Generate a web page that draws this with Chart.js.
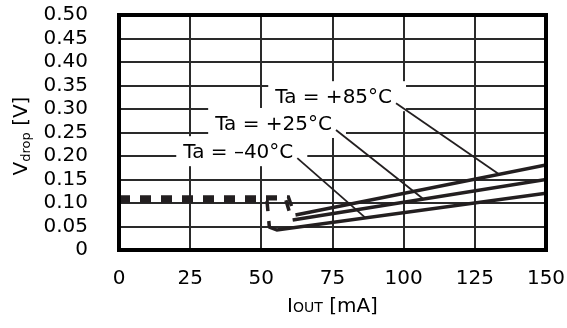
<!DOCTYPE html>
<html>
<head>
<meta charset="utf-8">
<script src="https://cdn.jsdelivr.net/npm/chart.js@4.4.0/dist/chart.umd.min.js"></script>
<style>
  html, body { margin: 0; padding: 0; background: #fff; }
</style>
</head>
<body>
<canvas id="vdropChart" width="567" height="328"></canvas>
<script>
// === DATA ===
const xTicks = [0, 25, 50, 75, 100, 125, 150];
const yTicks = [0, 0.05, 0.10, 0.15, 0.20, 0.25, 0.30, 0.35, 0.40, 0.45, 0.50];
const seriesNames = ["Ta = +85°C", "Ta = +25°C", "Ta = \u201340°C"];

// low current part (dashed)
const dashX85 = [0, 59.5, 61.5];
const dashY85 = [0.113, 0.113, 0.078];
const dashX25 = [0, 58.5, 60.5];
const dashY25 = [0.109, 0.109, 0.068];
const dashX40 = [0, 52, 52.8];
const dashY40 = [0.104, 0.104, 0.05];

// main part (solid)
const lineX85 = [62, 150];
const lineY85 = [0.0745, 0.181];
const lineX25 = [61, 150];
const lineY25 = [0.064, 0.150];
const lineX40 = [52.6, 55.5, 150];
const lineY40 = [0.049, 0.0425, 0.121];

// label anchors (data units) and where the leader hits the curve
const labelX = [75.4, 54.3, 41.9];
const labelY = [0.323, 0.266, 0.206];
const leaderX = [133.5, 106.9, 86.6];

const INK = "#231f20";
const FONT = "'DejaVu Sans', sans-serif";

function pts(xs, ys) {
  return xs.map((x, i) => ({ x: x, y: ys[i] }));
}

function yOnCurve(xs, ys, x) {
  for (let i = 0; i < xs.length - 1; i++) {
    if (x >= xs[i] && x <= xs[i + 1]) {
      const t = (x - xs[i]) / (xs[i + 1] - xs[i]);
      return ys[i] + t * (ys[i + 1] - ys[i]);
    }
  }
  return ys[ys.length - 1];
}

const solidX = [lineX85, lineX25, lineX40];
const solidY = [lineY85, lineY25, lineY40];

function dashed(xs, ys) {
  return {
    data: pts(xs, ys), borderColor: INK, borderWidth: 3.5,
    borderDash: [11, 10], pointRadius: 0, tension: 0, fill: false
  };
}
function solid(xs, ys) {
  return {
    data: pts(xs, ys), borderColor: INK, borderWidth: 3.5,
    pointRadius: 0, tension: 0, fill: false
  };
}

// labels with white boxes + leader lines
const labelPlugin = {
  id: "tempLabels",
  beforeDatasetsDraw(chart) {
    const { ctx, scales: { x, y } } = chart;
    ctx.save();
    ctx.font = "20px " + FONT;
    ctx.fillStyle = "#fff";
    seriesNames.forEach((name, i) => {
      const cx = x.getPixelForValue(labelX[i]);
      const cy = y.getPixelForValue(labelY[i]);
      const w = ctx.measureText(name).width;
      ctx.fillRect(cx - w / 2 - 7, cy - 17, w + 21, 30);
    });
    ctx.restore();
  },
  afterDatasetsDraw(chart) {
    const { ctx, scales: { x, y } } = chart;
    ctx.save();
    ctx.font = "20px " + FONT;
    ctx.fillStyle = "#000";
    ctx.textAlign = "center";
    ctx.textBaseline = "middle";
    ctx.strokeStyle = INK;
    ctx.lineWidth = 1.8;
    seriesNames.forEach((name, i) => {
      const cx = x.getPixelForValue(labelX[i]);
      const cy = y.getPixelForValue(labelY[i]);
      const w = ctx.measureText(name).width;
      ctx.fillText(name, cx, cy);
      const tx = x.getPixelForValue(leaderX[i]);
      const ty = y.getPixelForValue(yOnCurve(solidX[i], solidY[i], leaderX[i]));
      ctx.beginPath();
      ctx.moveTo(cx + w / 2 + 4, cy + 5);
      ctx.lineTo(tx, ty);
      ctx.stroke();
    });
    ctx.restore();
  },
  afterDraw(chart) {
    const { ctx, chartArea: a } = chart;
    ctx.save();
    // frame
    ctx.strokeStyle = "#000";
    ctx.lineWidth = 4;
    ctx.strokeRect(a.left, a.top, a.right - a.left, a.bottom - a.top);

    ctx.fillStyle = "#000";
    ctx.textBaseline = "alphabetic";
    // x title: I OUT [mA]
    const big = "20px " + FONT, small = "14px " + FONT;
    ctx.font = big; const wI = ctx.measureText("I").width;
    ctx.font = small; const wO = ctx.measureText("OUT").width;
    ctx.font = big; const wR = ctx.measureText(" [mA]").width;
    let sx = (a.left + a.right) / 2 - (wI + wO + wR) / 2;
    const by = 312;
    ctx.textAlign = "left";
    ctx.font = big; ctx.fillText("I", sx, by); sx += wI;
    ctx.font = small; ctx.fillText("OUT", sx, by); sx += wO;
    ctx.font = big; ctx.fillText(" [mA]", sx, by);

    // y title: V drop [V]
    ctx.translate(27, 136);
    ctx.rotate(-Math.PI / 2);
    ctx.font = big; const wV = ctx.measureText("V").width;
    ctx.font = "13px " + FONT; const wD = ctx.measureText("drop").width;
    ctx.font = big; const wB = ctx.measureText(" [V]").width;
    let sy = -(wV + wD + wB) / 2;
    ctx.font = big; ctx.fillText("V", sy, 0); sy += wV;
    ctx.font = "13px " + FONT; ctx.fillText("drop", sy, 3); sy += wD;
    ctx.font = big; ctx.fillText(" [V]", sy, 0);
    ctx.restore();
  }
};

new Chart(document.getElementById("vdropChart"), {
  type: "line",
  data: {
    datasets: [
      dashed(dashX85, dashY85),
      dashed(dashX25, dashY25),
      dashed(dashX40, dashY40),
      solid(lineX85, lineY85),
      solid(lineX25, lineY25),
      solid(lineX40, lineY40)
    ]
  },
  options: {
    responsive: false,
    animation: false,
    devicePixelRatio: 1,
    layout: { padding: { left: 0, right: 21, top: 15, bottom: 0 } },
    plugins: { legend: { display: false }, tooltip: { enabled: false } },
    scales: {
      x: {
        type: "linear", min: xTicks[0], max: xTicks[xTicks.length - 1],
        afterBuildTicks: (s) => { s.ticks = xTicks.map(v => ({ value: v })); },
        afterFit: (s) => { s.height = 78; s.paddingLeft = 0; s.paddingRight = 0; },
        ticks: { color: "#000", font: { family: FONT, size: 20 }, padding: 17, autoSkip: false, maxRotation: 0 },
        grid: { color: "#2a2a2a", lineWidth: 2, drawTicks: false },
        border: { display: false }
      },
      y: {
        type: "linear", min: yTicks[0], max: yTicks[yTicks.length - 1],
        afterBuildTicks: (s) => { s.ticks = yTicks.map(v => ({ value: v })); },
        afterFit: (s) => { s.width = 119; s.paddingTop = 0; s.paddingBottom = 0; },
        ticks: {
          color: "#000", font: { family: FONT, size: 20 }, padding: 31, autoSkip: false,
          callback: (v) => v === 0 ? "0" : v.toFixed(2)
        },
        grid: { color: "#2a2a2a", lineWidth: 2, drawTicks: false },
        border: { display: false }
      }
    }
  },
  plugins: [labelPlugin]
});
</script>
</body>
</html>
